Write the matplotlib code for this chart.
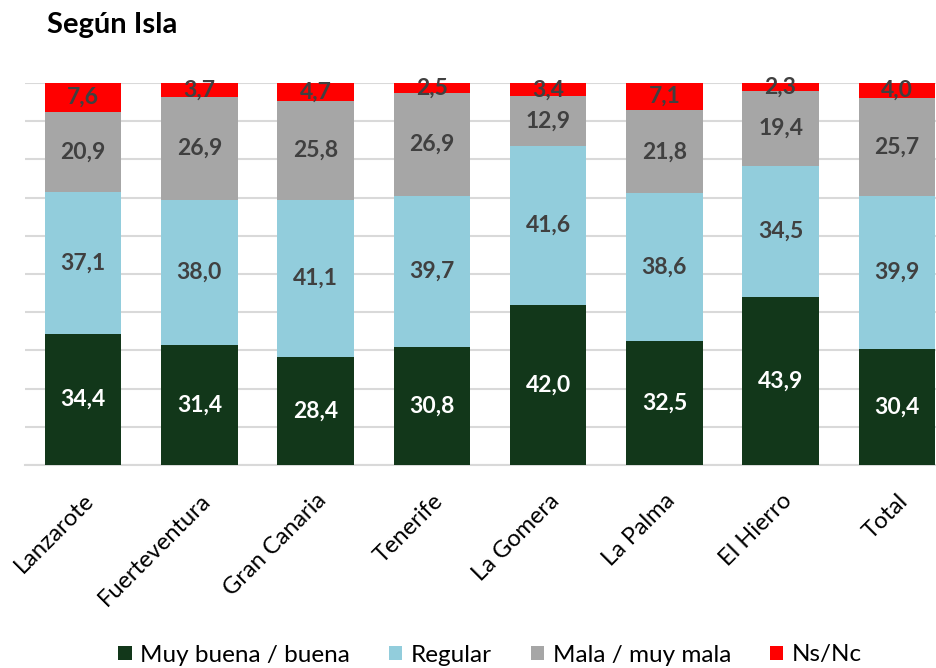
import numpy as np
import matplotlib
matplotlib.use("Agg")
import matplotlib.pyplot as plt

plt.rcParams['font.family'] = ['Lato', 'DejaVu Sans']

### data ###
islas = ['Lanzarote', 'Fuerteventura', 'Gran Canaria', 'Tenerife',
         'La Gomera', 'La Palma', 'El Hierro', 'Total']
buena = [34.4, 31.4, 28.4, 30.8, 42.0, 32.5, 43.9, 30.4]
regular = [37.1, 38.0, 41.1, 39.7, 41.6, 38.6, 34.5, 39.9]
mala = [20.9, 26.9, 25.8, 26.9, 12.9, 21.8, 19.4, 25.7]
nsnc = [7.6, 3.7, 4.7, 2.5, 3.4, 7.1, 2.3, 4.0]
series_names = ['Muy buena / buena', 'Regular', 'Mala / muy mala', 'Ns/Nc']
colors = ['#12371a', '#92cddc', '#a6a6a6', '#ff0000']
label_colors = ['white', '#404040', '#404040', '#404040']

### figure ###
fig = plt.figure(figsize=(9.36, 6.68), dpi=100)
ax = fig.add_axes([25/936, 203/668, 930/936, 382/668])

x = np.arange(len(islas))
bottom = np.zeros(len(islas))
for vals, name, col, lcol in zip([buena, regular, mala, nsnc], series_names, colors, label_colors):
    vals = np.array(vals)
    ax.bar(x, vals, 0.66, bottom=bottom, color=col, label=name, zorder=3)
    for xi, b, v in zip(x, bottom, vals):
        ax.text(xi, b + v/2, ('%.1f' % v).replace('.', ','), ha='center', va='center',
                color=lcol, fontsize=16.5, fontweight='bold', zorder=4)
    bottom += vals

ax.set_xlim(-0.5, 7.5)
ax.set_ylim(0, 100)
ax.set_yticks(np.arange(0, 101, 10))
ax.set_yticklabels([])
ax.tick_params(axis='y', length=0)
ax.grid(axis='y', color='#d9d9d9', linewidth=1.5, zorder=0)
for s in ['top', 'right', 'left']:
    ax.spines[s].set_visible(False)
ax.spines['bottom'].set_color('#d9d9d9')
ax.spines['bottom'].set_linewidth(1.5)

ax.set_xticks(x)
ax.set_xticklabels(islas, rotation=45, ha='right', rotation_mode='anchor', fontsize=17)
ax.tick_params(axis='x', length=0, pad=18)

fig.text(47/936, 1 - 25/668, 'Según Isla', fontsize=21, fontweight='bold', va='center')

fig.legend(loc='center', bbox_to_anchor=(490/936, 1 - 655/668), ncol=4, frameon=False,
           fontsize=17.5, handlelength=0.55, handleheight=0.55, handletextpad=0.35,
           columnspacing=1.6)

plt.savefig('out.png', dpi=100)
